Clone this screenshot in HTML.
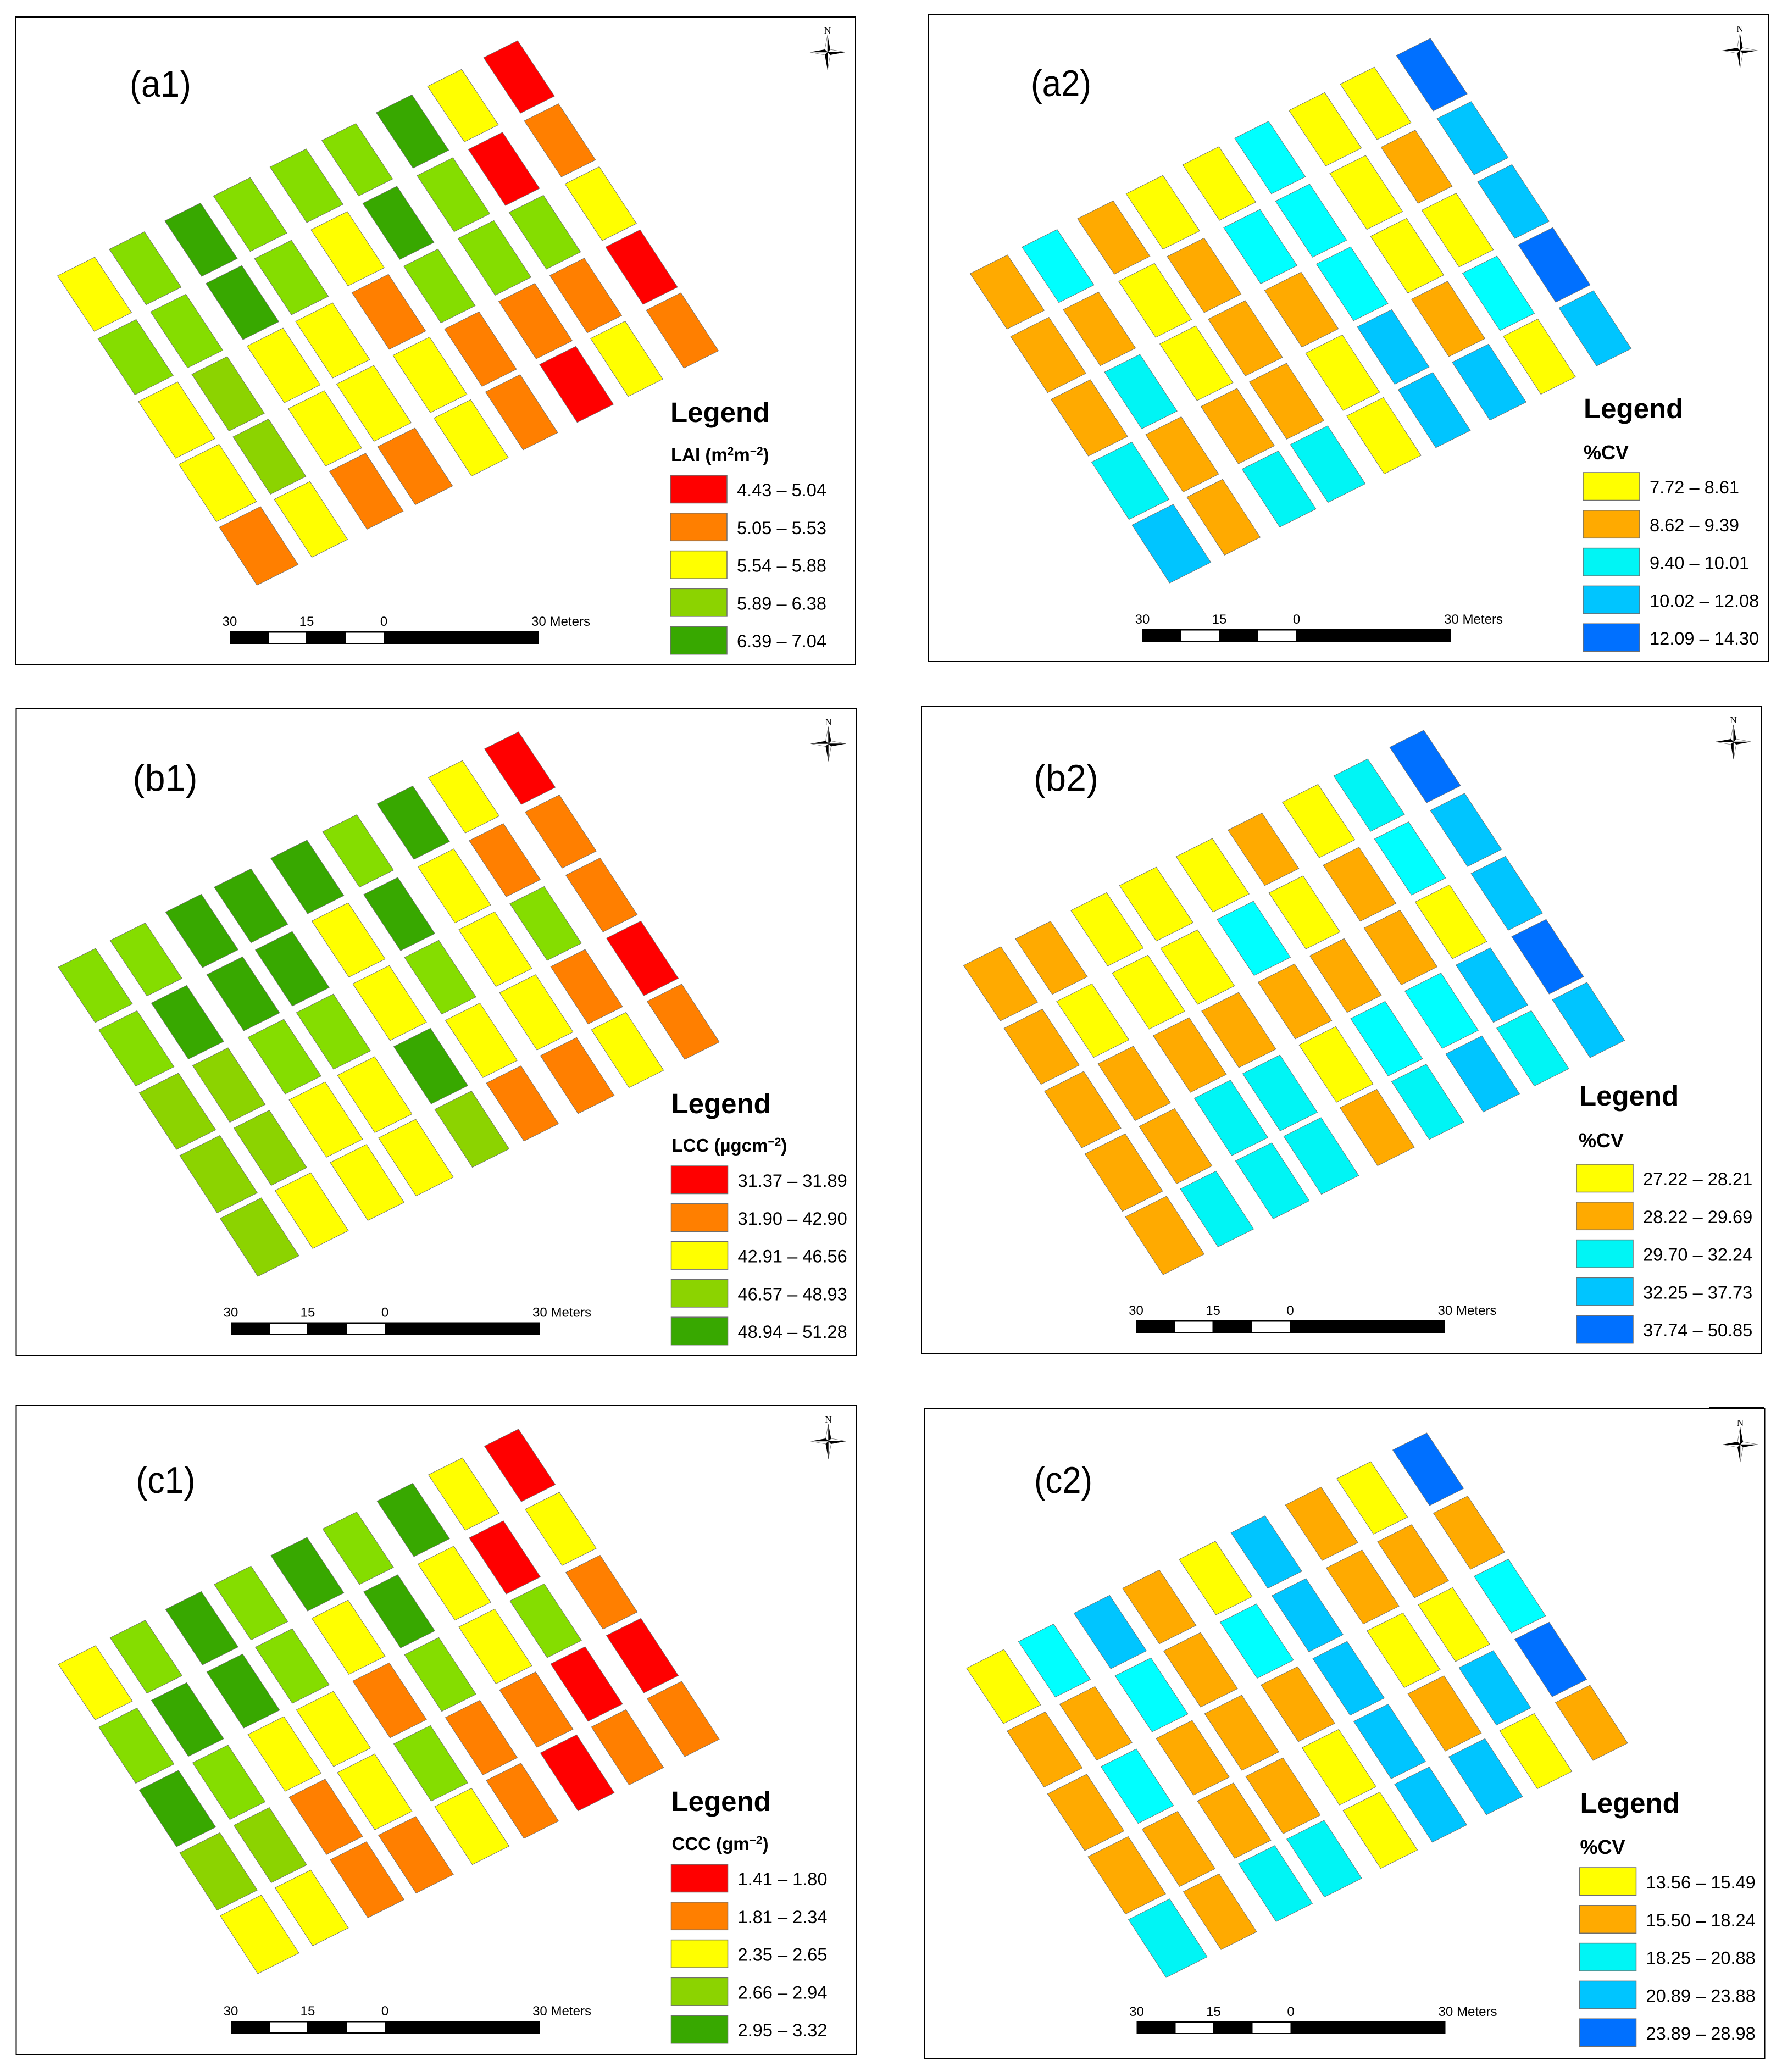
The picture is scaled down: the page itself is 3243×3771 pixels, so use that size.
<!DOCTYPE html>
<html lang="en">
<head>
<meta charset="utf-8">
<title>LAI, LCC, CCC maps and %CV</title>
<style>
html,body{margin:0;padding:0;background:#fff;}
svg{display:block;}
text{font-family:"Liberation Sans",Arial,sans-serif;fill:#000;}
</style>
</head>
<body>
<svg id="figure" xmlns="http://www.w3.org/2000/svg" width="3243" height="3771" viewBox="0 0 3243 3771"></svg>
<script>
/* Plot classes: one array per column (9 columns, 5 rows). Index into the panel palette. */
const a1Classes = [[2,5,2,2,1],[5,5,3,3,2],[4,4,2,2,1],[5,5,2,2,1],[5,2,1,2,2],[5,4,5,1,1],[4,5,5,1,0],[2,0,5,1,2],[0,1,2,0,1]];
const a2Classes = [[1,1,1,2,3],[5,1,2,1,1],[1,0,0,1,2],[0,1,1,1,2],[0,5,1,0,0],[5,5,5,3,3],[0,0,0,1,3],[0,1,0,5,0],[4,3,3,4,3]];
const b1Classes = [[5,5,3,3,3],[5,4,3,3,2],[4,4,5,2,2],[4,4,5,2,2],[4,2,2,4,3],[5,4,5,2,1],[4,2,2,2,1],[2,1,5,1,2],[0,1,1,0,1]];
const b2Classes = [[1,1,1,1,1],[1,0,1,1,2],[0,0,1,2,2],[0,0,1,2,2],[0,5,1,0,1],[1,0,1,5,2],[0,1,1,5,3],[2,5,0,3,2],[4,3,3,4,3]];
const c1Classes = [[2,5,4,3,2],[5,4,5,3,2],[4,4,2,1,1],[5,5,2,2,1],[4,2,1,5,2],[5,4,5,1,1],[4,2,2,1,0],[2,0,5,0,1],[0,2,1,0,1]];
const c2Classes = [[0,1,1,1,2],[5,1,5,1,1],[3,5,1,1,2],[1,1,1,1,2],[0,5,1,0,0],[3,3,3,3,3],[1,1,0,1,3],[0,1,0,3,0],[4,1,5,4,1]];

/* Legend labels */
const a1Labels = ['4.43 – 5.04','5.05 – 5.53','5.54 – 5.88','5.89 – 6.38','6.39 – 7.04'];
const a2Labels = ['7.72 – 8.61','8.62 – 9.39','9.40 – 10.01','10.02 – 12.08','12.09 – 14.30'];
const b1Labels = ['31.37 – 31.89','31.90 – 42.90','42.91 – 46.56','46.57 – 48.93','48.94 – 51.28'];
const b2Labels = ['27.22 – 28.21','28.22 – 29.69','29.70 – 32.24','32.25 – 37.73','37.74 – 50.85'];
const c1Labels = ['1.41 – 1.80','1.81 – 2.34','2.35 – 2.65','2.66 – 2.94','2.95 – 3.32'];
const c2Labels = ['13.56 – 15.49','15.50 – 18.24','18.25 – 20.88','20.89 – 23.88','23.89 – 28.98'];

/* Legend headings: text pieces alternate normal, superscript */
const a1Heading = ['LAI (m','2','m','−2',')'];
const b1Heading = ['LCC (µgcm','−2',')'];
const c1Heading = ['CCC (gm','−2',')'];
const cvHeading = ['%CV'];

/* Scale bar tick labels */
const scaleTicks = ['30','15','0','30 Meters'];

/* Palettes: the sixth entry is the lighter tint seen on some plots */
const warmPalette = ['#ff0000','#ff7f00','#ffff00','#8cd300','#38a800','#85dd00'];
const coolPalette = ['#ffff00','#ffaa00','#00f5f5','#00c5ff','#0070ff','#00ffff'];

/* Panel layout */
const panels = [
  {id:'a1',label:'(a1)',cls:a1Classes,labels:a1Labels,heading:a1Heading,hs:33,pal:warmPalette,fx:28,fy:31,fw:1529,fh:1178,ox:28,oy:31,lx:208,ly:145,lw:112,hx:1192,hy:737,tx:1193,ty:808,sy:834,bx:390,by:1118,nx:1478,ny:64},
  {id:'a2',label:'(a2)',cls:a2Classes,labels:a2Labels,heading:cvHeading,hs:36,pal:coolPalette,fx:1689,fy:27,fw:1529,fh:1177,ox:1689,oy:27,lx:187,ly:148,lw:110,hx:1193,hy:734,tx:1193,ty:809,sy:833,bx:390,by:1118,nx:1477.5,ny:65},
  {id:'b1',label:'(b1)',cls:b1Classes,labels:b1Labels,heading:b1Heading,hs:33,pal:warmPalette,fx:29.5,fy:1289,fw:1529,fh:1178,ox:29.5,oy:1289,lx:212,ly:150,lw:118,hx:1192,hy:737,tx:1193,ty:807,sy:833,bx:390.5,by:1117.5,nx:1478,ny:64.5},
  {id:'b2',label:'(b2)',cls:b2Classes,labels:b2Labels,heading:cvHeading,hs:36,pal:coolPalette,fx:1677,fy:1286,fw:1529,fh:1178,ox:1677,oy:1286,lx:204,ly:153,lw:118,hx:1197,hy:726,tx:1196,ty:802,sy:833,bx:390.5,by:1117,nx:1477.7,ny:64},
  {id:'c1',label:'(c1)',cls:c1Classes,labels:c1Labels,heading:c1Heading,hs:33,pal:warmPalette,fx:29.5,fy:2558,fw:1529,fh:1181,ox:29.5,oy:2558,lx:218,ly:159,lw:108,hx:1192,hy:738,tx:1193,ty:809,sy:835,bx:390.5,by:1120,nx:1478,ny:65},
  {id:'c2',label:'(c2)',cls:c2Classes,labels:c2Labels,heading:cvHeading,hs:36,pal:coolPalette,fx:1682.5,fy:2563,fw:1529,fh:1183,ox:1682.5,oy:2565,lx:199.5,ly:152,lw:106,hx:1193,hy:734,tx:1193,ty:809,sy:834,bx:386,by:1114,nx:1484.5,ny:64}
];

/* Plot width along the row direction, by column (layout measure) */
const columnWidths = [68, 64, 65, 67, 66, 62, 65, 62, 62];

const NS = 'http://www.w3.org/2000/svg';
const root = document.getElementById('figure');

function make(tag, attrs, parent) {
  const node = document.createElementNS(NS, tag);
  for (const k in attrs) node.setAttribute(k, attrs[k]);
  parent.appendChild(node);
  return node;
}

/* Axis functions: plot column and row index to map position */
function columnAxis(c) { return Math.floor(c / 2) + (c % 2) * 0.47; }
function rowAxis(r) { return r; }
function cornerX(u, v) { return 144.5 + u * 192.4 + v * (75.4 - (u / 4) * 1.15); }
function cornerY(u, v) { return 437 - u * 98.5 + v * (113.5 + (u / 4) * 1.25); }

function cellPoints(c, r) {
  const u = columnAxis(c), v = rowAxis(r);
  const tx = cornerX(u, v), ty = cornerY(u, v);
  const rf = r / 4;
  const ax = 67 + rf * 1.5, ay = 101 + rf * 4.5;
  const w = columnWidths[c] + (c === 0 ? rf * 7 : rf * 1);
  const bx = -w, by = w * 0.5;
  return [[tx, ty], [tx + ax, ty + ay], [tx + ax + bx, ty + ay + by], [tx + bx, ty + by]]
    .map(p => p[0].toFixed(1) + ',' + p[1].toFixed(1)).join(' ');
}

function classColor(pal, value) {
  const i = Math.max(0, Math.min(pal.length - 1, Math.round(value)));
  return pal[i];
}

function drawCompass(parent, p) {
  const g = make('g', {transform: 'translate(' + p.nx + ' ' + p.ny + ')'}, parent);
  
  
  const n = make('text', {x: 0, y: -34, 'text-anchor': 'middle', 'font-size': 17, style: 'font-family:"Liberation Serif",serif'}, g);
  
  
  n.textContent = 'N';
  const white = ['0,-31 -5,-5 0,0', '32,0 5,-5 0,0', '0,32 5,5 0,0', '-32,0 -5,5 0,0'];
  const black = ['0,-31 5,-5 0,0', '32,0 5,5 0,0', '0,32 -5,5 0,0', '-32,0 -5,-5 0,0'];
  white.forEach(pts => {
    const w = make('polygon', {points: pts, fill: '#fff', stroke: '#777', 'stroke-width': 0.8}, g);
    
    
  });
  black.forEach(pts => {
    const b = make('polygon', {points: pts, fill: '#000'}, g);
    
    
  });
}

function drawScaleBar(parent, p) {
  const g = make('g', {transform: 'translate(' + p.bx + ' ' + p.by + ')'}, parent);
  
  
  const bar = make('rect', {x: 0, y: 0, width: 562, height: 23, fill: '#000'}, g);
  
  
  [[71, 68], [211, 69]].forEach(seg => {
    const s = make('rect', {x: seg[0], y: 2.5, width: seg[1], height: 18.5, fill: '#fff'}, g);
    
    
  });
  const tickStops = [0, 140, 280.5];
  scaleTicks.forEach((t, i) => {
    const attrs = i < 3
      ? {x: tickStops[i], y: -10, 'text-anchor': 'middle', 'font-size': 24}
      : {x: 549, y: -10, 'font-size': 24, textLength: 107, lengthAdjust: 'spacingAndGlyphs'};
    const lab = make('text', attrs, g);
    
    
    lab.textContent = t;
  });
}

function drawLegend(parent, p) {
  const g = make('g', {}, parent);
  
  
  const title = make('text', {x: p.hx, y: p.hy, 'font-size': 51, 'font-weight': 'bold'}, g);
  
  
  title.textContent = 'Legend';
  const heading = make('text', {x: p.tx, y: p.ty, 'font-size': p.hs, 'font-weight': 'bold'}, g);
  
  
  p.heading.forEach((piece, i) => {
    const sup = i % 2 === 1;
    const attrs = sup ? {dy: -11, 'font-size': 21} : (i > 0 ? {dy: 11} : {});
    const span = make('tspan', attrs, heading);
    span.textContent = piece;
  });
  p.labels.forEach((t, i) => {
    const y = p.sy + i * 68.8;
    const sw = make('rect', {x: 1192, y: y, width: 103, height: 50.5, fill: p.pal[i], stroke: '#6e6e6e', 'stroke-width': 1.5}, g);
    
    
    const lab = make('text', {x: 1313, y: y + 38, 'font-size': 32.6}, g);
    
    
    lab.textContent = t;
  });
}

panels.forEach(p => {
  const panel = make('g', {}, root);
  
  

  const frame = make('rect', {x: p.fx, y: p.fy, width: p.fw, height: p.fh, fill: '#fff', stroke: '#000', 'stroke-width': 2}, panel);
  
  

  const content = make('g', {transform: 'translate(' + p.ox + ' ' + p.oy + ')'}, panel);
  
  

  const lab = make('text', {x: p.lx, y: p.ly, 'font-size': 68, textLength: p.lw, lengthAdjust: 'spacingAndGlyphs'}, content);
  
  
  lab.textContent = p.label;

  const grid = make('g', {}, content);
  
  
  p.cls.forEach((column, c) => {
    column.forEach((value, r) => {
      const cell = make('polygon', {points: cellPoints(c, r), fill: classColor(p.pal, value), stroke: '#6e6e6e', 'stroke-width': 0.9}, grid);
      
      
    });
  });

  drawCompass(content, p);
  drawScaleBar(content, p);
  drawLegend(content, p);
});

const notch = make('line', {x1: 3110, y1: 2562, x2: 3211, y2: 2562, stroke: '#000', 'stroke-width': 2}, root);


</script>
</body>
</html>
